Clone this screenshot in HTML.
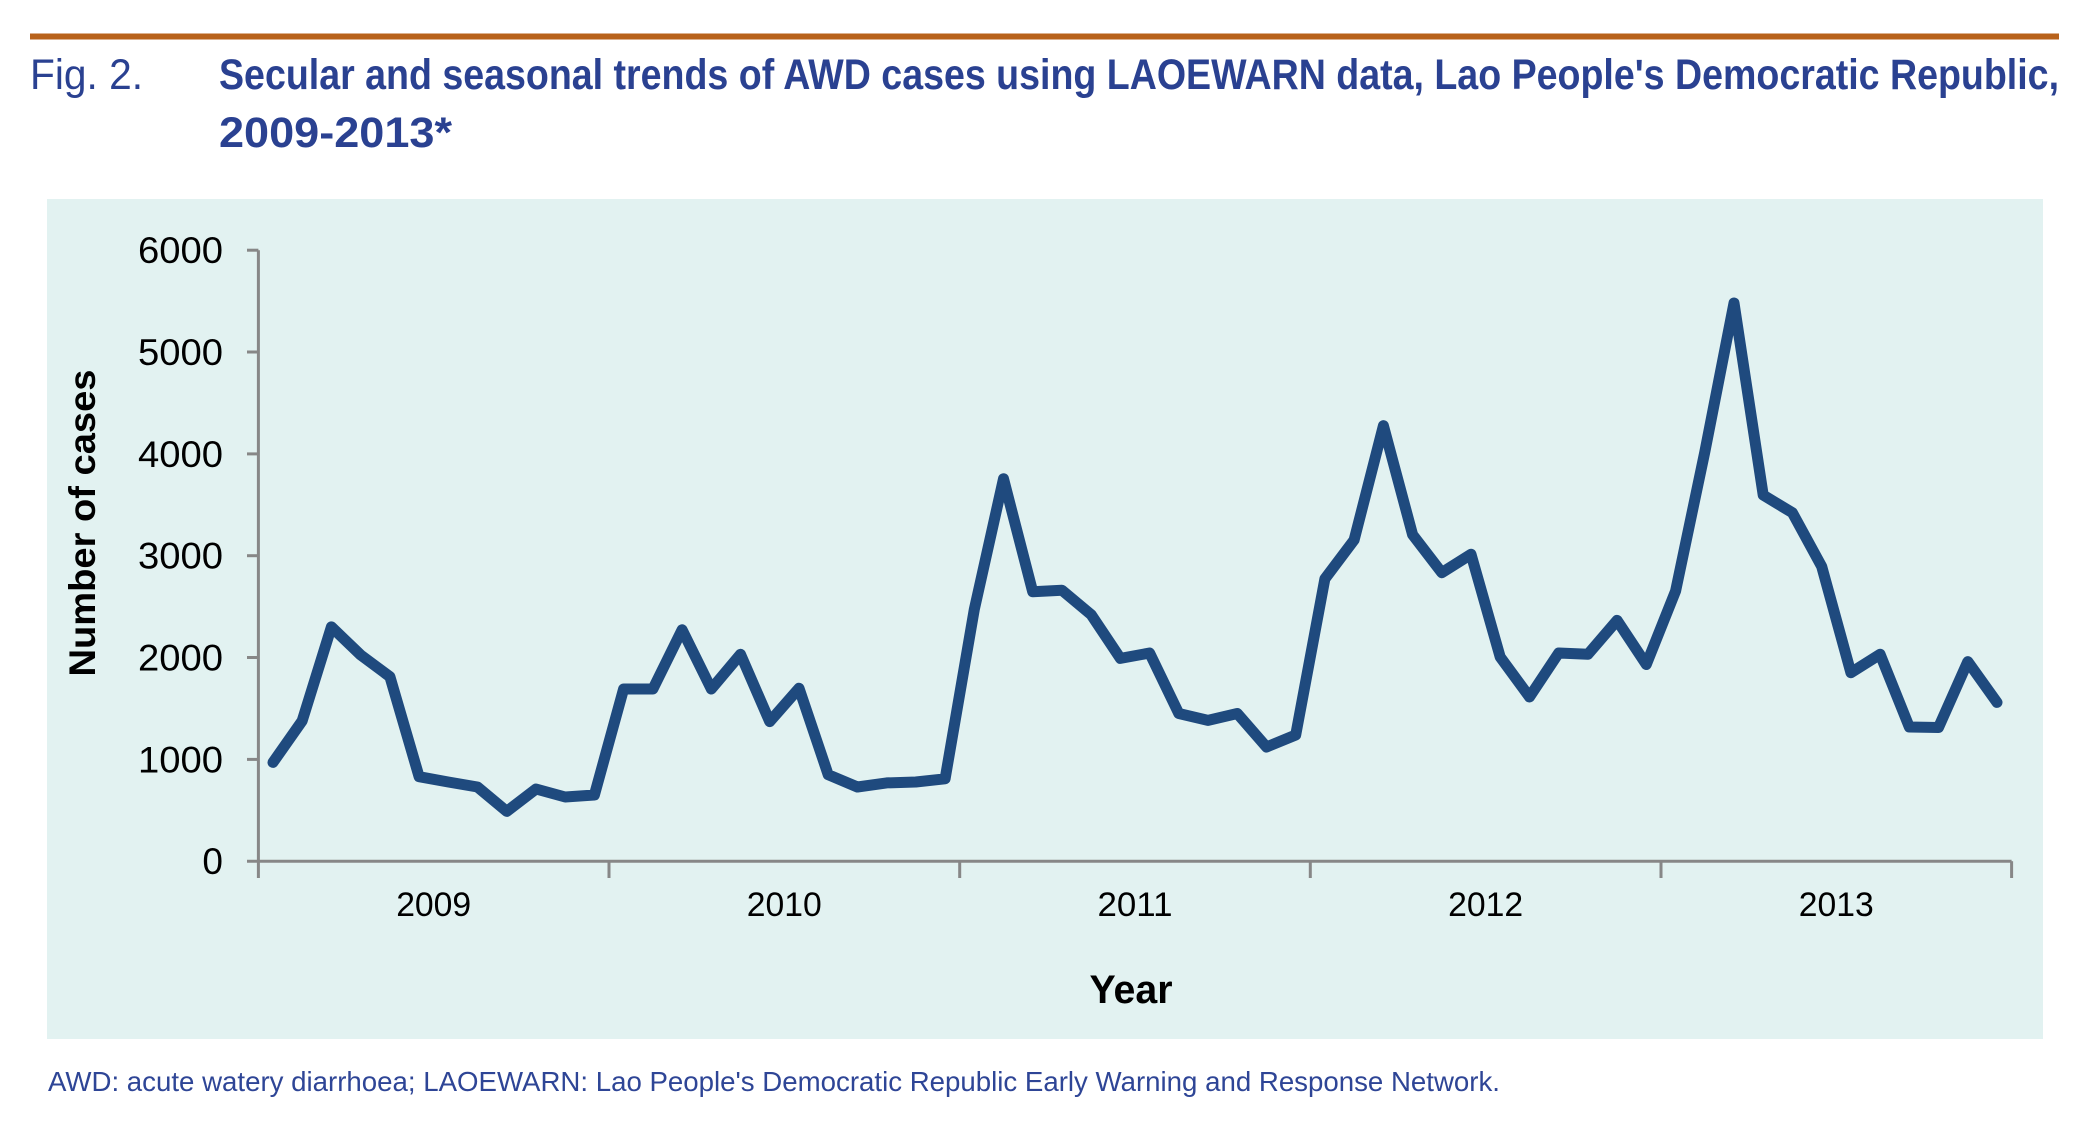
<!DOCTYPE html>
<html>
<head>
<meta charset="utf-8">
<style>
html,body{margin:0;padding:0;background:#ffffff;}
svg{display:block;}
</style>
</head>
<body>
<svg width="2092" height="1140" viewBox="0 0 2092 1140" xmlns="http://www.w3.org/2000/svg">
  <rect x="0" y="0" width="2092" height="1140" fill="#ffffff"/>
  <!-- orange rule -->
  <rect x="30" y="33.5" width="2029" height="6" fill="#b8621b"/>
  <!-- title -->
  <text x="30" y="89" font-family="'Liberation Sans Narrow','Liberation Sans',sans-serif" font-size="43" fill="#2a4191" textLength="113" lengthAdjust="spacingAndGlyphs">Fig. 2.</text>
  <text x="219" y="89" font-family="'Liberation Sans Narrow','Liberation Sans',sans-serif" font-size="43" font-weight="bold" fill="#2a4191" textLength="1840" lengthAdjust="spacingAndGlyphs">Secular and seasonal trends of AWD cases using LAOEWARN data, Lao People's Democratic Republic,</text>
  <text x="219" y="147" font-family="'Liberation Sans Narrow','Liberation Sans',sans-serif" font-size="43" font-weight="bold" fill="#2a4191" textLength="233" lengthAdjust="spacingAndGlyphs">2009-2013*</text>

  <!-- chart background -->
  <rect x="47" y="199" width="1996" height="840" fill="#e2f2f1"/>

  <!-- axes -->
  <g stroke="#878787" stroke-width="3" fill="none">
    <line x1="258.4" y1="250.2" x2="258.4" y2="878"/>
    <line x1="247" y1="861.2" x2="2011.6" y2="861.2"/>
    <line x1="247" y1="250.2" x2="258.4" y2="250.2"/>
    <line x1="247" y1="352.0" x2="258.4" y2="352.0"/>
    <line x1="247" y1="453.9" x2="258.4" y2="453.9"/>
    <line x1="247" y1="555.7" x2="258.4" y2="555.7"/>
    <line x1="247" y1="657.5" x2="258.4" y2="657.5"/>
    <line x1="247" y1="759.4" x2="258.4" y2="759.4"/>
    <line x1="609.0" y1="861.2" x2="609.0" y2="878"/>
    <line x1="959.7" y1="861.2" x2="959.7" y2="878"/>
    <line x1="1310.3" y1="861.2" x2="1310.3" y2="878"/>
    <line x1="1661.0" y1="861.2" x2="1661.0" y2="878"/>
    <line x1="2011.6" y1="861.2" x2="2011.6" y2="878"/>
  </g>

  <!-- y tick labels -->
  <g font-family="'Liberation Sans',sans-serif" font-size="37" fill="#000000" text-anchor="end">
    <text x="223" y="263" textLength="85" lengthAdjust="spacingAndGlyphs">6000</text>
    <text x="223" y="365" textLength="85" lengthAdjust="spacingAndGlyphs">5000</text>
    <text x="223" y="467" textLength="85" lengthAdjust="spacingAndGlyphs">4000</text>
    <text x="223" y="568.5" textLength="85" lengthAdjust="spacingAndGlyphs">3000</text>
    <text x="223" y="670.5" textLength="85" lengthAdjust="spacingAndGlyphs">2000</text>
    <text x="223" y="772.5" textLength="85" lengthAdjust="spacingAndGlyphs">1000</text>
    <text x="223" y="874">0</text>
  </g>

  <!-- x tick labels -->
  <g font-family="'Liberation Sans',sans-serif" font-size="34" fill="#000000" text-anchor="middle">
    <text x="433.7" y="916" textLength="75" lengthAdjust="spacingAndGlyphs">2009</text>
    <text x="784.3" y="916" textLength="75" lengthAdjust="spacingAndGlyphs">2010</text>
    <text x="1135.0" y="916" textLength="75" lengthAdjust="spacingAndGlyphs">2011</text>
    <text x="1485.6" y="916" textLength="75" lengthAdjust="spacingAndGlyphs">2012</text>
    <text x="1836.3" y="916" textLength="75" lengthAdjust="spacingAndGlyphs">2013</text>
  </g>

  <!-- axis titles -->
  <text x="1131" y="1003" font-family="'Liberation Sans',sans-serif" font-size="40" font-weight="bold" fill="#000000" text-anchor="middle" textLength="83" lengthAdjust="spacingAndGlyphs">Year</text>
  <text transform="translate(95,523) rotate(-90)" x="0" y="0" font-family="'Liberation Sans',sans-serif" font-size="37" font-weight="bold" fill="#000000" text-anchor="middle" textLength="307" lengthAdjust="spacingAndGlyphs">Number of cases</text>

  <!-- data series -->
  <polyline fill="none" stroke="#1f4a7e" stroke-width="11" stroke-linejoin="round" stroke-linecap="round"
    points="273.0,762.4 302.2,720.8 331.4,626.9 360.7,655 389.9,676.7 419.1,776.7 448.3,782 477.5,787 506.8,811.4 536.0,789 565.2,797 594.4,795 623.6,689 652.9,689 682.1,629.8 711.3,689 740.5,654.3 769.7,721.6 799.0,688.2 828.2,774.7 857.4,787 886.6,782.9 915.8,782 945.1,778.8 974.3,609.4 1003.5,478.8 1032.7,591.8 1061.9,590.2 1091.2,614.7 1120.4,658.4 1149.6,653 1178.8,713.5 1208.0,720.4 1237.3,713.5 1266.5,747 1295.7,735 1324.9,578.8 1354.1,540 1383.4,425.7 1412.6,534.7 1441.8,572.7 1471.0,554.3 1500.2,657 1529.5,697 1558.7,653 1587.9,654.3 1617.1,620.4 1646.3,664.5 1675.6,591 1704.8,452 1734.0,303 1763.2,495.1 1792.4,512.7 1821.7,566.5 1850.9,672.7 1880.1,654.3 1909.3,727 1938.5,727.5 1967.8,661.6 1997.0,702.4"/>

  <!-- footnote -->
  <text x="48" y="1091" font-family="'Liberation Sans Narrow','Liberation Sans',sans-serif" font-size="28" fill="#2e4596" textLength="1452" lengthAdjust="spacingAndGlyphs">AWD: acute watery diarrhoea; LAOEWARN: Lao People's Democratic Republic Early Warning and Response Network.</text>
</svg>
</body>
</html>
